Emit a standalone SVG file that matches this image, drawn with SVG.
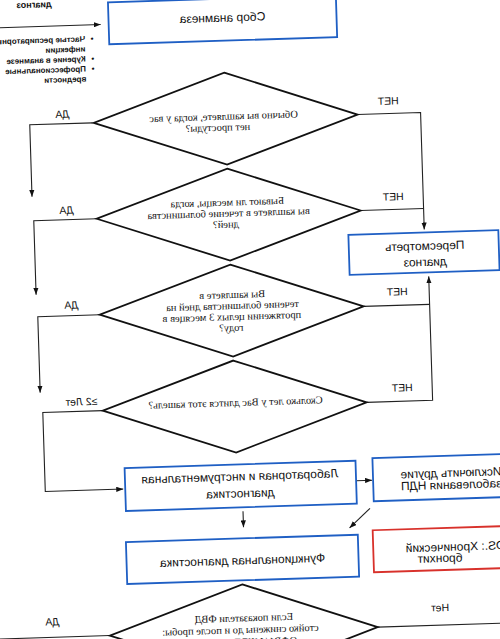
<svg xmlns="http://www.w3.org/2000/svg" width="500" height="639" viewBox="0 0 500 639">
<defs>
<style>
.box{fill:#fff;stroke:#1f5fc4;stroke-width:1.8}
.red{fill:#fff;stroke:#d8312b;stroke-width:1.8}
.dia{fill:#fff;stroke:#111;stroke-width:1.8}
.ln{fill:none;stroke:#222;stroke-width:1.1}
.bt{font-family:"Liberation Sans",Arial,sans-serif;font-size:12px;fill:#111;text-anchor:middle}
.dt{font-family:"Liberation Serif","Times New Roman",serif;font-size:10.5px;fill:#111;text-anchor:middle}
.lb{font-family:"Liberation Sans",Arial,sans-serif;font-size:10.5px;fill:#111;text-anchor:middle}
.li{font-family:"Liberation Sans",Arial,sans-serif;font-size:8px;font-weight:bold;fill:#111}
</style>
<marker id="ah" viewBox="0 0 8 6" refX="8" refY="3" markerWidth="7" markerHeight="5.5" markerUnits="userSpaceOnUse" orient="auto">
<path d="M0,0 L8,3 L0,6 z" fill="#111"/>
</marker>
</defs>
<rect x="0" y="0" width="500" height="639" fill="#fff"/>
<g transform="rotate(-1.8 250 320)">
<g id="connectors" class="ln">
<path d="M-20 20 L110 20" marker-end="url(#ah)"/>
<path d="M99 118 L36 118 L36 190" marker-end="url(#ah)"/>
<path d="M100 214 L37 214 L37 288" marker-end="url(#ah)"/>
<path d="M100 310 L38 310 L38 386" marker-end="url(#ah)"/>
<path d="M100 406 L40 406 L40 485 L118 485" marker-end="url(#ah)"/>
<path d="M364 118 L427 118 L427 235" marker-end="url(#ah)"/>
<path d="M364 214 L427 214"/>
<path d="M364 310 L430 310"/>
<path d="M364 406 L430 406 L430 282" marker-end="url(#ah)"/>
<path d="M351 484 L367 484" marker-end="url(#ah)"/>
<path d="M237 511 L237 527" marker-end="url(#ah)"/>
<path d="M364 512 L343 531" marker-end="url(#ah)"/>
<path d="M368 631 L520 631"/>
<path d="M100 631 L-20 631"/>
</g>
<g id="labels">
<text class="lb" transform="translate(69,112) scale(-1,1)">ДА</text>
<text class="lb" transform="translate(70,208) scale(-1,1)">ДА</text>
<text class="lb" transform="translate(72,303) scale(-1,1)">ДА</text>
<text class="lb" transform="translate(79,400) scale(-1,1)">≥2 Лет</text>
<text class="lb" transform="translate(43,619) scale(-1,1)">ДА</text>
<text class="lb" transform="translate(395,109) scale(-1,1)">НЕТ</text>
<text class="lb" transform="translate(397,205) scale(-1,1)">НЕТ</text>
<text class="lb" transform="translate(398,300) scale(-1,1)">НЕТ</text>
<text class="lb" transform="translate(400,396) scale(-1,1)">НЕТ</text>
<text class="lb" transform="translate(431,617) scale(-1,1)">Нет</text>
</g>
<g id="risk">
<text class="li" style="font-size:9px" text-anchor="middle" transform="translate(44,1) scale(-1,1)">диагноз</text>
<text class="li" text-anchor="middle" transform="translate(101,36.5) scale(-1,1)">•</text>
<text class="li" transform="translate(94,36.5) scale(-1,1)">Частые респираторные</text>
<text class="li" transform="translate(94,46.5) scale(-1,1)">инфекции</text>
<text class="li" text-anchor="middle" transform="translate(101,56.5) scale(-1,1)">•</text>
<text class="li" transform="translate(94,56.5) scale(-1,1)">Курение в анамнезе</text>
<text class="li" text-anchor="middle" transform="translate(101,66.5) scale(-1,1)">•</text>
<text class="li" transform="translate(94,66.5) scale(-1,1)">Профессиональные</text>
<text class="li" transform="translate(94,76.5) scale(-1,1)">вредности</text>
</g>
<g id="n-anamnez">
<rect class="box" x="118" y="-2" width="228" height="42"/>
<text class="bt" transform="translate(232,21) scale(-1,1)">Сбор анамнеза</text>
</g>
<g id="d1">
<polygon class="dia" points="232,72 364,118 232,164 100,118"/>
<text class="dt" transform="translate(230,119) scale(-1,1)">Обычно вы кашляете, когда у вас</text>
<text class="dt" transform="translate(224,130) scale(-1,1)">нет простуды?</text>
</g>
<g id="d2">
<polygon class="dia" points="232,168 364,214 232,260 100,214"/>
<text class="dt" transform="translate(231,205) scale(-1,1)">Бывают ли месяцы, когда</text>
<text class="dt" transform="translate(232,216) scale(-1,1)">вы кашляете в течение большинства</text>
<text class="dt" transform="translate(229,227) scale(-1,1)">дней?</text>
</g>
<g id="d3">
<polygon class="dia" points="232,264 364,310 232,356 100,310"/>
<text class="dt" transform="translate(233,297.5) scale(-1,1)">Вы кашляете в</text>
<text class="dt" transform="translate(233,308.5) scale(-1,1)">течение большинства дней на</text>
<text class="dt" transform="translate(232,319.5) scale(-1,1)">протяжении целых 3 месяцев в</text>
<text class="dt" transform="translate(231,330.5) scale(-1,1)">году?</text>
</g>
<g id="d4">
<polygon class="dia" points="232,360 364,406 232,452 100,406"/>
<text class="dt" transform="translate(233,405.5) scale(-1,1)">Сколько лет у Вас длится этот кашель?</text>
</g>
<g id="n-review">
<rect class="box" x="351" y="238" width="150" height="40"/>
<text class="bt" transform="translate(427,255.5) scale(-1,1)">Пересмотреть</text>
<text class="bt" transform="translate(427,271.5) scale(-1,1)">диагноз</text>
</g>
<g id="n-lab">
<rect class="box" x="120" y="464" width="231" height="43"/>
<text class="bt" transform="translate(235,480) scale(-1,1)">Лабораторная и инструментальная</text>
<text class="bt" transform="translate(235,497) scale(-1,1)">диагностика</text>
</g>
<g id="n-exclude">
<rect class="box" x="368" y="462" width="150" height="43"/>
<text class="bt" transform="translate(446,483) scale(-1,1)">Исключить другие</text>
<text class="bt" transform="translate(446,495) scale(-1,1)">заболевания НДП</text>
</g>
<g id="n-func">
<rect class="box" x="119" y="538" width="232" height="42"/>
<text class="bt" transform="translate(235,564) scale(-1,1)">Функциональная диагностика</text>
</g>
<g id="n-ds">
<rect class="red" x="366" y="534" width="150" height="42"/>
<text class="bt" transform="translate(448,557) scale(-1,1)">DS.: Хронический</text>
<text class="bt" transform="translate(432.5,568) scale(-1,1)">бронхит</text>
</g>
<g id="d5">
<polygon class="dia" points="234,584 368,631 234,678 100,631"/>
<text class="dt" transform="translate(234.5,621) scale(-1,1)">Если показатели ФВД</text>
<text class="dt" transform="translate(230.7,632.7) scale(-1,1)">стойко снижены до и после пробы:</text>
<text class="dt" text-anchor="start" style="text-anchor:start" transform="translate(287,645) scale(-1,1)">ОФВ1/ФЖЕЛ</text>
</g>
</g>
</svg>
